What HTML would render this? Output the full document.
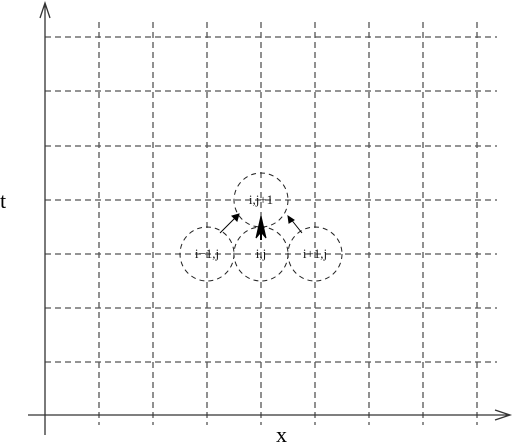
<!DOCTYPE html>
<html><head><style>body{margin:0;background:#fff}svg{display:block}</style></head><body>
<svg width="515" height="443" font-family="Liberation Serif, serif">
<g stroke="#555" stroke-width="1.3" stroke-dasharray="6,4" fill="none">
<path d="M99 22V425M153 22V425M207 22V425M261 22V425M315 22V425M369 22V425M423 22V425M477 22V425"/>
<path d="M45 37H497M45 91H497M45 146H497M45 200H497M45 254H497M45 308H497M45 362H497"/>
</g>
<g stroke="#333" stroke-width="1.3" fill="none">
<path d="M45 435V3M40 18L45 3L50 18"/>
<path d="M28 415H510M495 410L510 415L495 420"/>
</g>
<text x="0" y="208" font-size="22">t</text>
<text x="276" y="442" font-size="22">x</text>
<g stroke="#222" stroke-width="1" stroke-dasharray="5,4" fill="none">
<circle cx="261" cy="200" r="27"/><circle cx="207" cy="254" r="27"/><circle cx="261" cy="254" r="27"/><circle cx="315" cy="254" r="27"/>
</g>
<g font-size="13" text-anchor="middle" fill="#111">
<text x="261" y="204">i,j+1</text>
<text x="207" y="258">i−1,j</text>
<text x="261" y="258">i,j</text>
<text x="315" y="258">i+1,j</text>
</g>
<g stroke="#000" fill="#000" stroke-width="1">
<path d="M220 233L237 216"/><path d="M239 214L232 216L237 221Z"/>
<path d="M302 233L290 218"/><path d="M288 216L289 223L294 220Z"/>
<path d="M261 240V218" stroke-width="2"/><path d="M261 216L256 238L261 232L266 238Z"/>
</g>
</svg>
</body></html>
